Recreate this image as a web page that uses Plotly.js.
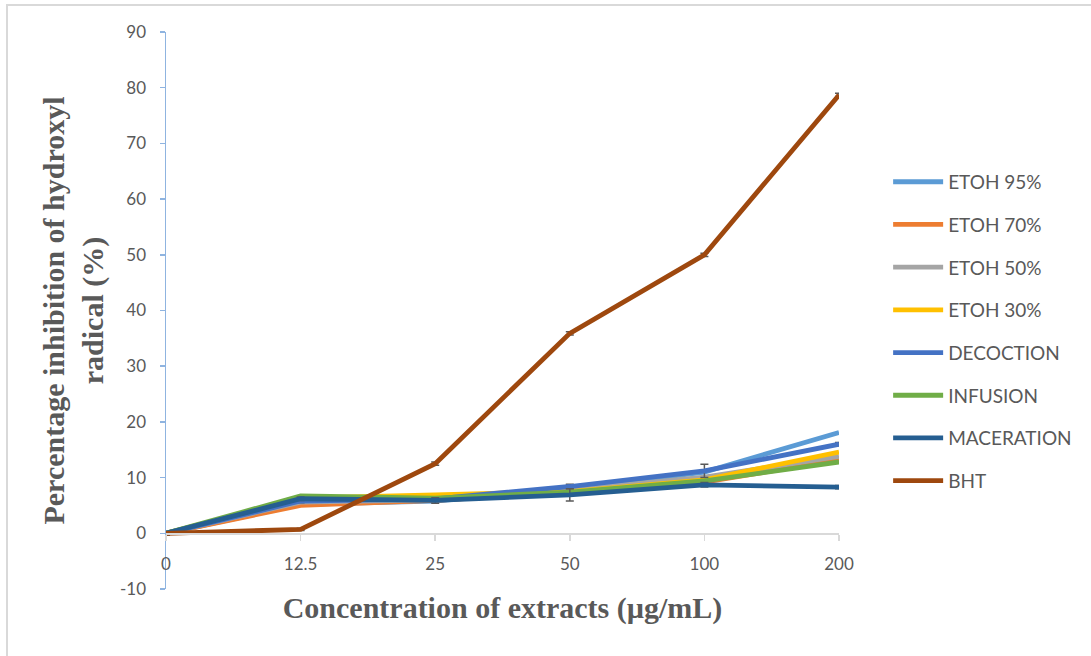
<!DOCTYPE html>
<html>
<head>
<meta charset="utf-8">
<script src="https://cdn.plot.ly/plotly-3.0.1.min.js"></script>
<style>
  html, body { margin: 0; padding: 0; background: #fff; }
  #wrap { position: relative; width: 1091px; height: 656px; }
  #frame { position: absolute; left: 6px; top: 4px; right: 0; bottom: 0;
           border-left: 2px solid #d9d9d9; border-top: 2px solid #d9d9d9; pointer-events: none; }
  #chart { position: absolute; left: 0; top: 0; width: 1091px; height: 656px; }
</style>
</head>
<body>
<div id="wrap">
  <div id="chart"></div>
  <div id="frame"></div>
</div>
<script>
// Categories (x)
const concentrations = ['0', '12.5', '25', '50', '100', '200'];

// Y tick labels
const yTickVals   = [-10, 0, 10, 20, 30, 40, 50, 60, 70, 80, 90];
const yTickLabels = ['-10', '0', '10', '20', '30', '40', '50', '60', '70', '80', '90'];

// Series values (% inhibition)
const etoh95    = [0, 5.2, 5.8, 8.0, 11.0, 18.1];
const etoh70    = [0, 5.0, 5.9, 7.4, 9.2, 13.2];
const etoh50    = [0, 5.6, 6.0, 7.8, 10.1, 13.8];
const etoh30    = [0, 6.3, 6.9, 7.5, 9.6, 14.6];
const decoction = [0, 5.8, 6.2, 8.4, 11.2, 16.0];
const infusion  = [0, 6.7, 6.3, 7.4, 9.4, 12.8];
const maceration= [0, 6.2, 5.9, 6.9, 8.7, 8.3];
const bht       = [0, 0.7, 12.5, 35.9, 50.0, 78.7];

// Error values (standard deviation)
const decoctionErr  = [0.2, 0.3, 0.3, 0.4, 1.2, 0.3];
const macerationErr = [0.3, 0.3, 0.5, 1.1, 0.4, 0.3];
const bhtErr        = [0.3, 0.2, 0.3, 0.3, 0.3, 0.3];

const seriesNames  = ['ETOH 95%', 'ETOH 70%', 'ETOH 50%', 'ETOH 30%', 'DECOCTION', 'INFUSION', 'MACERATION', 'BHT'];
const seriesValues = [etoh95, etoh70, etoh50, etoh30, decoction, infusion, maceration, bht];
const seriesErrors = [null, null, null, null, decoctionErr, null, macerationErr, bhtErr];
const seriesColors = ['#5B9BD5', '#ED7D31', '#A5A5A5', '#FFC000', '#4472C4', '#70AD47', '#255E91', '#9E480E'];

const traces = seriesNames.map((name, i) => {
  const t = {
    type: 'scatter',
    mode: 'lines',
    name: name,
    x: concentrations,
    y: seriesValues[i],
    legendgroup: 'g' + i,
    line: { color: seriesColors[i], width: 4.8 },
    hoverinfo: 'skip'
  };
  if (seriesErrors[i]) {
    t.error_y = { type: 'data', array: seriesErrors[i], visible: true,
                  color: '#595959', thickness: 1.5, width: 4 };
  }
  return t;
});

const tickFont = { family: 'Lato, "Open Sans", sans-serif', size: 17, color: '#595959' };
const titleFont = { family: '"Liberation Serif", "Times New Roman", serif', size: 30, color: '#595959', weight: 'bold' };

const layout = {
  width: 1091,
  height: 656,
  paper_bgcolor: '#ffffff',
  plot_bgcolor: '#ffffff',
  margin: { l: 166, r: 252, t: 32, b: 67 },
  showlegend: true,
  legend: {
    x: 1.073, xanchor: 'left', y: 0.765, yanchor: 'top',
    font: { family: 'Lato, "Open Sans", sans-serif', size: 19, color: '#595959' },
    traceorder: 'grouped',
    tracegroupgap: 15,
    itemwidth: 50,
    bgcolor: 'rgba(0,0,0,0)'
  },
  xaxis: {
    type: 'category',
    range: [0, 5],
    anchor: 'free',
    position: 0.1,
    showgrid: false,
    zeroline: false,
    showline: true,
    linecolor: '#d9d9d9',
    linewidth: 1.5,
    ticks: 'outside',
    ticklen: 6,
    tickcolor: '#d9d9d9',
    tickwidth: 1.5,
    ticklabelstandoff: 9,
    tickfont: tickFont,
    title: { text: 'Concentration of extracts (µg/mL)', font: titleFont, standoff: 24 }
  },
  yaxis: {
    range: [-10, 90],
    tickmode: 'array',
    tickvals: yTickVals,
    ticktext: yTickLabels,
    showgrid: false,
    zeroline: false,
    showline: true,
    linecolor: '#8FB4E0',
    linewidth: 1.5,
    ticks: 'outside',
    ticklen: 5,
    tickcolor: '#8FB4E0',
    tickwidth: 1.5,
    ticklabelstandoff: 10,
    tickfont: tickFont,
    title: { text: 'Percentage inhibition of hydroxyl<br>radical (%)', font: titleFont, standoff: 7 }
  }
};

Plotly.newPlot('chart', traces, layout, { displayModeBar: false, staticPlot: true });
</script>
</body>
</html>
